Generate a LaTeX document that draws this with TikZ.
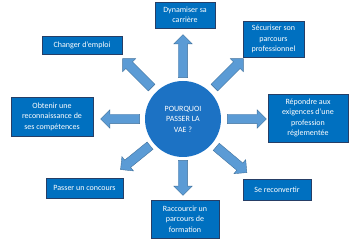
\documentclass[tikz,border=0pt]{standalone}
\usepackage{fontspec}
\setmainfont{Carlito}
\usetikzlibrary{calc,shapes.arrows}

\definecolor{boxblue}{RGB}{0,112,192}
\definecolor{boxline}{RGB}{38,62,102}
\definecolor{hubblue}{RGB}{28,114,196}
\definecolor{arrowfill}{RGB}{91,155,213}
\definecolor{arrowline}{RGB}{65,113,156}

\begin{document}
\begin{tikzpicture}[x=1pt,y=1pt,
  reason/.style={draw=boxline,line width=0.8pt,fill=boxblue,text=white,align=center,
    inner sep=1pt,font=\fontsize{8}{10.5}\selectfont},
  hub/.style={circle,fill=hubblue,text=white,align=center,minimum size=76pt,
    inner sep=0pt,font=\fontsize{8}{10.5}\selectfont},
  blockarrow/.style={single arrow,fill=arrowfill,draw=arrowline,line width=0.4pt,
    inner xsep=0pt,inner ysep=4.5pt,single arrow head extend=4.5pt,
    single arrow head indent=0pt,minimum width=0pt}]
\useasboundingbox (0,0) rectangle (360,240);

% Centre
\node[hub] (vae) at (183,121) {POURQUOI\\PASSER LA\\VAE ?};

% Reasons round the centre
\node[reason,minimum width=60pt,minimum height=26pt] (dyn) at (185,225) {Dynamiser sa\\carrière};
\node[reason,minimum width=80pt,minimum height=18pt] (chg) at (82,195) {Changer d’emploi};
\node[reason,minimum width=61pt,minimum height=36pt] (sec) at (273.5,201) {Sécuriser son\\parcours\\professionnel};
\node[reason,minimum width=82pt,minimum height=39pt] (obt) at (52,123.5) {Obtenir une\\reconnaissance de\\ses compétences};
\node[reason,minimum width=80pt,minimum height=48pt] (rep) at (308,122) {Répondre aux\\exigences d’une\\profession\\réglementée};
\node[reason,minimum width=77pt,minimum height=20pt] (pas) at (84.5,52) {Passer un concours};
\node[reason,minimum width=68pt,minimum height=21pt] (rec) at (277,50.5) {Se reconvertir};
\node[reason,minimum width=68pt,minimum height=38pt] (rac) at (185,21) {Raccourcir un\\parcours de\\formation};

% Block arrows out of the centre
\foreach \n/\a/\d/\l in {up/90/60.5/43, upl/135/62.5/41, left/180/60.5/39,
    lowl/219/59/38, down/270/56.5/35, lowr/320/61/40, right/0/61.5/39, upr/45/62.5/41}
  \node[blockarrow,minimum height=\l pt,rotate=\a] (arr-\n) at ($(vae)+(\a:\d)$) {};
\end{tikzpicture}
\end{document}
